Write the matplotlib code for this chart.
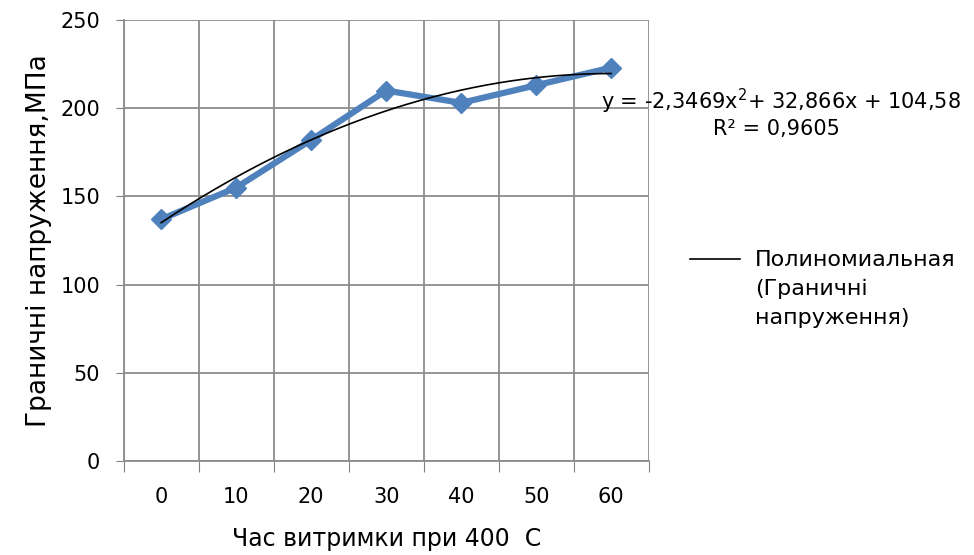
import matplotlib.pyplot as plt
from matplotlib.legend_handler import HandlerLine2D
import numpy as np

# Час витримки, хв і граничні напруження, МПа
hours = ['0', '10', '20', '30', '40', '50', '60']
stress = [137, 155, 182, 210, 203, 213, 223]

# коефіцієнти поліноміального тренду (Excel, x = номер категорії)
poly_coef = [-2.3469, 32.866, 104.58]
r2 = 0.9605


# лінія легенди навпроти першого рядка підпису
class TopLine(HandlerLine2D):
    def create_artists(self, legend, orig_handle, xdescent, ydescent,
                       width, height, fontsize, trans):
        arts = super().create_artists(legend, orig_handle, xdescent, ydescent,
                                      width, height, fontsize, trans)
        for a in arts:
            a.set_ydata(np.asarray(a.get_ydata()) + fontsize * 1.35)
        return arts


fig = plt.figure(figsize=(9.74, 5.55), dpi=100)
ax = fig.add_axes([0.127, 0.1694, 0.539, 0.7946])

idx = np.arange(1, len(hours) + 1)
ax.plot(idx, stress, color='#4F81BD', lw=4.5, marker='D', ms=10,
        markeredgecolor='#4F81BD', zorder=3)

xs = np.linspace(1, len(hours), 200)
line, = ax.plot(xs, np.polyval(poly_coef, xs), color='black', lw=1.2, zorder=4,
                label='Полиномиальная\n(Граничні\nнапруження)')

ax.set_xlim(0.5, len(hours) + 0.5)
ax.set_ylim(0, 250)
ax.set_yticks(np.arange(0, 251, 50))
ax.set_xticks(np.arange(0.5, len(hours) + 1, 1))
ax.set_xticklabels([])
ax.set_xticks(idx, minor=True)
ax.set_xticklabels(hours, minor=True)
ax.tick_params(axis='x', which='minor', length=0, pad=19, labelsize=15)
ax.tick_params(axis='x', which='major', length=8, color='#808080')
ax.tick_params(axis='y', length=6, color='#808080', labelsize=15, pad=11)
ax.grid(True, which='major', color='#8c8c8c', lw=1.3)
for s in ['top', 'right']:
    ax.spines[s].set_visible(False)
for s in ['left', 'bottom']:
    ax.spines[s].set_color('#8c8c8c')
    ax.spines[s].set_linewidth(1.3)
ax.set_axisbelow(True)

ax.set_ylabel('Граничні напруження,МПа', fontsize=19, labelpad=6)
ax.set_xlabel('Час витримки при 400  С', fontsize=17, labelpad=14)

fig.text(0.987, 0.817, 'y = -2,3469x$^2$+ 32,866x + 104,58', ha='right', va='center', fontsize=15)
fig.text(0.797, 0.767, 'R² = 0,9605', ha='center', va='center', fontsize=15)

leg = ax.legend(handler_map={line: TopLine()}, loc='center left',
                bbox_to_anchor=(1.04, 0.39), frameon=False,
                fontsize=16, handlelength=2.25, handletextpad=0.7)
for t in leg.get_texts():
    t.set_linespacing(1.55)

fig.savefig('out.png', dpi=100)
